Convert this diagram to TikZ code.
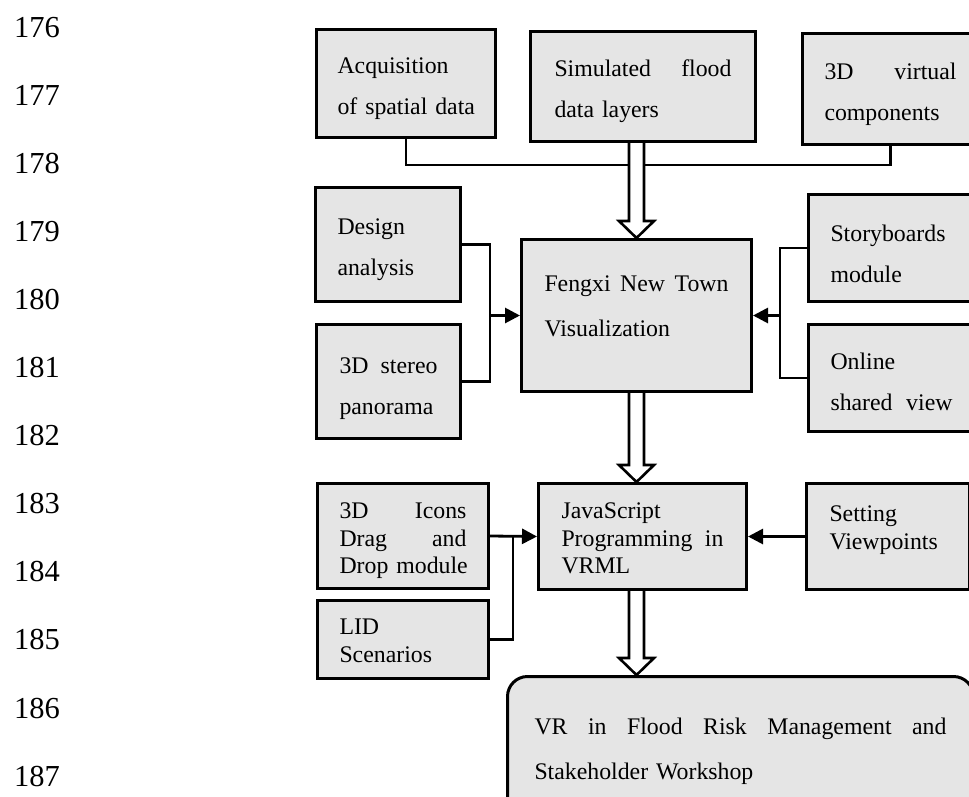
\documentclass[tikz,border=0pt]{standalone}
\usepackage{fontspec}
\setmainfont{Liberation Serif}
\usepackage{tikz}
\usetikzlibrary{arrows.meta,calc,positioning}
\definecolor{boxgray}{gray}{0.9}

\begin{document}
\begin{tikzpicture}[x=1pt,y=-1pt]
      \tikzset { block/.style = { draw,fill=boxgray,line width=3pt,anchor=north west,align=left,inner ysep=0pt,font=\fontsize{23.8pt}{41pt}\selectfont } }
      \tikzset { tight/.style = { font=\fontsize{23.8pt}{27.5pt}\selectfont } }
      \tikzset { line/.style = { line width=2.8pt } }
      \tikzset { edge/.style = { line,->,>={Triangle[length=15pt,width=15pt]} } }
      \tikzset { hollow/.style = { line width=2.6pt,fill=white,
          to path={($(\tikztostart)+(-7.5,0)$) -- ($(\tikztotarget)+(-7.5,-17)$) -- ($(\tikztotarget)+(-17.5,-17)$)
            -- (\tikztotarget) -- ($(\tikztotarget)+(17.5,-17)$) -- ($(\tikztotarget)+(7.5,-17)$) -- ($(\tikztostart)+(7.5,0)$)} } }
      \tikzset { lineno/.style = { anchor=base west,inner sep=0pt,font=\fontsize{30.5pt}{36pt}\selectfont } }

      \useasboundingbox (0,0) rectangle (969,796);

      % line numbers
      \foreach \n [evaluate=\n as \lab using int(176+\n)] in {0,...,11}
        \node[lineno] (ln\n) at (14,{37+68.1*\n}) {\lab};

      % inputs
      \node[block,inner xsep=21pt,text width=137pt,text height=44pt,text depth=64pt] (acq) at (315,28) {Acquisition\\\mbox{of spatial data}};
      \node[block,inner xsep=24pt,text width=177pt,text height=45pt,text depth=65pt] (sim) at (529,30) {Simulated\hfill flood\\data~layers};
      \node[block,inner xsep=22pt,text width=132pt,text height=46pt,text depth=65pt] (virt) at (801,32) {3D\hfill virtual\\components};

      \node[block,inner xsep=22pt,text width=101pt,text height=47pt,text depth=67pt] (design) at (314,186) {Design\\analysis};
      \node[block,inner xsep=23pt,text width=98pt,text height=49pt,text depth=65pt] (stereo) at (315,323) {3D\hfill stereo\\panorama};
      \node[block,inner xsep=23pt,text width=184pt,text height=52pt,text depth=100pt,font=\fontsize{23.8pt}{45pt}\selectfont] (fengxi) at (520,238) {Fengxi\hfill New\hfill Town\\Visualization};
      \node[block,inner xsep=22pt,text width=122pt,text height=47pt,text depth=60pt] (story) at (807,193) {Storyboards\\module};
      \node[block,inner xsep=22pt,text width=122pt,text height=45pt,text depth=62pt] (online) at (807,323) {Online\\shared\hfill view};

      \node[block,tight,inner xsep=22pt,text width=127pt,text height=35pt,text depth=70pt] (icons) at (316,482) {3D\hfill Icons\\Drag\hfill and\\\mbox{Drop module}};
      \node[block,tight,inner xsep=22pt,text width=127pt,text height=34pt,text depth=44pt] (lid) at (316,599) {LID\\Scenarios};
      \node[block,tight,inner xsep=23pt,text width=162pt,text height=35pt,text depth=71pt] (js) at (537,482) {JavaScript\\Programming\hfill in\\VRML};
      \node[block,tight,inner xsep=23pt,text width=117pt,text height=38pt,text depth=68pt] (setting) at (805,482) {Setting\\Viewpoints};

      \node[block,rounded corners=20pt,inner xsep=27pt,text width=412pt,text height=58pt,text depth=82pt,font=\fontsize{23.8pt}{45pt}\selectfont] (vr) at (506,675)
        {VR\hfill in\hfill Flood\hfill Risk\hfill Management\hfill and\\\mbox{Stakeholder Workshop}};

      % connectors
      \draw[line] (acq.south) -- ++(0,26) -| (virt.south);
      \draw[hollow] (fengxi.north |- sim.south) to (fengxi.north);

      \coordinate[left=30pt of fengxi.west] (ljoin);
      \draw[line] (design.east) -| (ljoin) |- (stereo.east);
      \draw[edge] (ljoin) -- (fengxi.west);

      \coordinate[right=27pt of fengxi.east] (rjoin);
      \draw[line] (story.west) -| (rjoin) |- (online.west);
      \draw[edge] (rjoin) -- (fengxi.east);

      \draw[hollow] (fengxi.south) to (fengxi.south |- js.north);

      \coordinate[left=24pt of js.west] (bjoin);
      \draw[edge] (icons.east) -- (js.west);
      \draw[line] (lid.east) -| (bjoin);
      \draw[edge] (setting.west) -- (js.east);

      \draw[hollow] (fengxi.south |- js.south) to (fengxi.south |- vr.north);

    \end{tikzpicture}
\end{document}
